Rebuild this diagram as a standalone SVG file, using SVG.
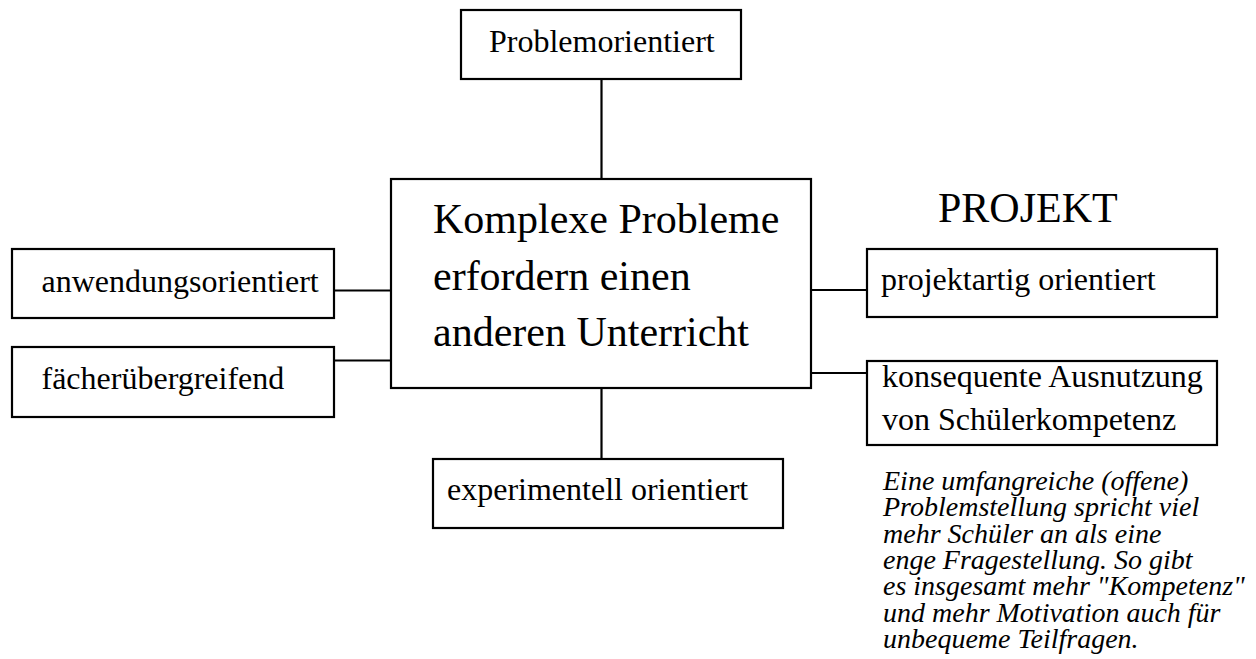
<svg xmlns="http://www.w3.org/2000/svg" width="1256" height="659" viewBox="0 0 1256 659">
  <style>
    .box { fill: #ffffff; stroke: #000000; stroke-width: 2.2; }
    .link { stroke: #000000; stroke-width: 2.2; fill: none; }
    .lbl { font-family: "Liberation Serif", "Times New Roman", serif; font-size: 32px; fill: #000000; }
    .big { font-family: "Liberation Serif", "Times New Roman", serif; font-size: 42px; fill: #000000; }
    .note { font-family: "Liberation Serif", "Times New Roman", serif; font-size: 28px; font-style: italic; fill: #000000; }
  </style>
  <rect width="1256" height="659" fill="#ffffff"/>

  <!-- connectors -->
  <g id="connectors">
    <line class="link" x1="601.5" y1="79" x2="601.5" y2="179"/>
    <line class="link" x1="334" y1="290.5" x2="391" y2="290.5"/>
    <line class="link" x1="334" y1="360.5" x2="391" y2="360.5"/>
    <line class="link" x1="601.5" y1="388" x2="601.5" y2="459"/>
    <line class="link" x1="811" y1="290" x2="867" y2="290"/>
    <line class="link" x1="811" y1="373" x2="867" y2="373"/>
  </g>

  <g id="problemorientiert">
    <rect class="box" x="461" y="10" width="280" height="69"/>
    <text class="lbl" x="489" y="52">Problemorientiert</text>
  </g>

  <g id="zentrum">
    <rect class="box" x="391" y="179" width="420" height="209"/>
    <text class="big" x="433" y="233">Komplexe Probleme</text>
    <text class="big" x="433" y="290">erfordern einen</text>
    <text class="big" x="433" y="346">anderen Unterricht</text>
  </g>

  <g id="anwendungsorientiert">
    <rect class="box" x="12" y="249" width="322" height="69"/>
    <text class="lbl" x="41.5" y="291.5">anwendungsorientiert</text>
  </g>

  <g id="faecheruebergreifend">
    <rect class="box" x="12" y="347" width="322" height="70"/>
    <text class="lbl" x="41.5" y="388.5">fächerübergreifend</text>
  </g>

  <g id="experimentell">
    <rect class="box" x="433" y="459" width="350" height="69"/>
    <text class="lbl" x="447" y="500">experimentell orientiert</text>
  </g>

  <g id="projekt-titel">
    <text class="big" x="938" y="222">PROJEKT</text>
  </g>

  <g id="projektartig">
    <rect class="box" x="867" y="249" width="350" height="68"/>
    <text class="lbl" x="881" y="290">projektartig orientiert</text>
  </g>

  <g id="konsequent">
    <rect class="box" x="867" y="361" width="350" height="84"/>
    <text class="lbl" x="882" y="387">konsequente Ausnutzung</text>
    <text class="lbl" x="882" y="430">von Schülerkompetenz</text>
  </g>

  <g id="anmerkung">
    <text class="note" x="883" y="490">Eine umfangreiche (offene)</text>
    <text class="note" x="883" y="516.3">Problemstellung spricht viel</text>
    <text class="note" x="883" y="542.6">mehr Schüler an als eine</text>
    <text class="note" x="883" y="568.9">enge Fragestellung. So gibt</text>
    <text class="note" x="883" y="595.2">es insgesamt mehr "Kompetenz"</text>
    <text class="note" x="883" y="621.5">und mehr Motivation auch für</text>
    <text class="note" x="883" y="647.8">unbequeme Teilfragen.</text>
  </g>
</svg>
